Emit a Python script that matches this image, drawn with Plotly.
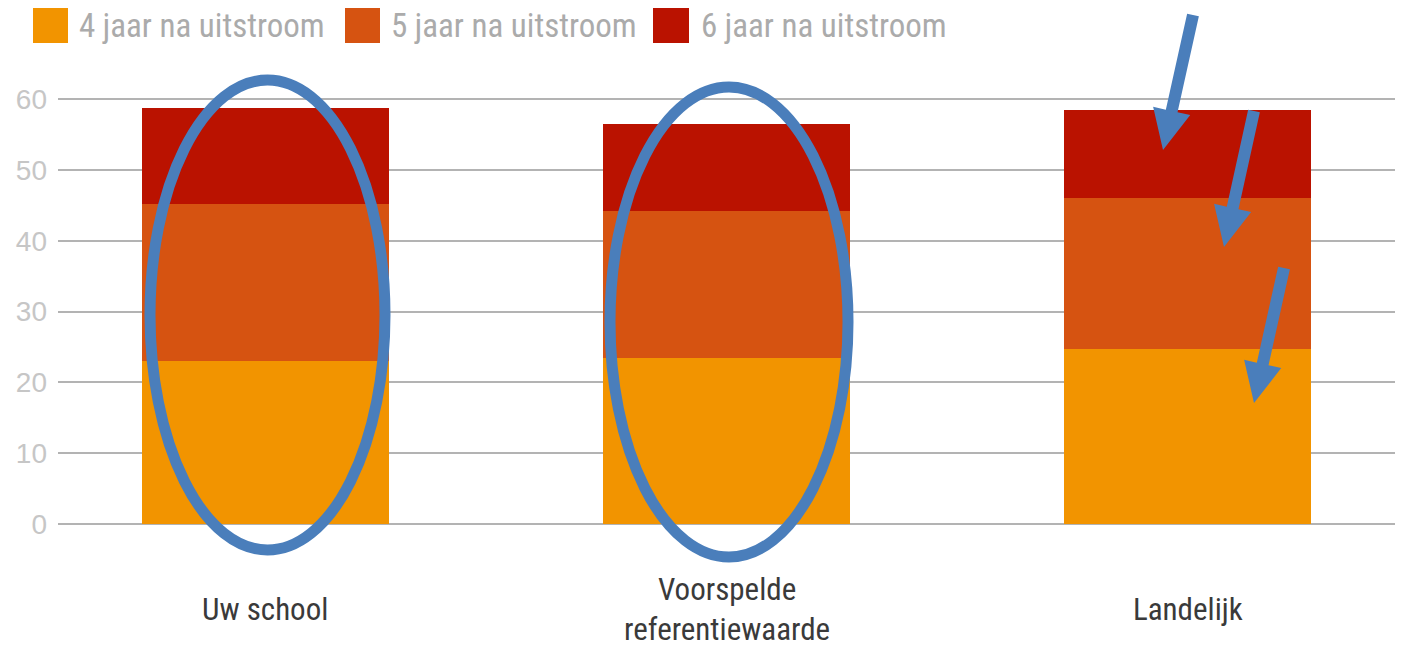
import math
import plotly.graph_objects as go

# ---- data ----
categories = ["Uw school", "Voorspelde referentiewaarde", "Landelijk"]
category_labels = ["Uw school", "Voorspelde<br>referentiewaarde", "Landelijk"]
series_names = ["4 jaar na uitstroom", "5 jaar na uitstroom", "6 jaar na uitstroom"]
jaar4 = [23.0, 23.4, 24.7]
jaar5 = [22.2, 20.8, 21.4]
jaar6 = [13.6, 12.3, 12.3]
y_ticks = [0, 10, 20, 30, 40, 50, 60]

colors = ["#F29400", "#D65311", "#BA1200"]
blue = "#4A7EBB"
FONT = "Roboto Condensed, Liberation Sans Narrow, DejaVu Sans Condensed, Liberation Sans, sans-serif"

# plot area in pixels (y range padded slightly so the 0 and 60 gridlines are drawn)
W, H = 1401, 649
L, R, T, B = 58, 1395, 97, 526
Y_RANGE = [-0.3, 60.3]


def px(x):
    return (x - L) / (R - L)


def py(y):
    return (B - y) / (B - T)


fig = go.Figure()
for name, vals, col in zip(series_names, [jaar4, jaar5, jaar6], colors):
    fig.add_trace(go.Bar(x=categories, y=vals, name=name, marker=dict(color=col, line=dict(width=0))))

fig.update_layout(
    barmode="stack",
    bargap=0.465,
    width=W, height=H,
    margin=dict(l=L, r=W - R, t=T, b=H - B, pad=0),
    plot_bgcolor="white", paper_bgcolor="white",
    showlegend=False,
    xaxis=dict(range=[-0.45, 2.45], showticklabels=False, showgrid=False, zeroline=False, showline=False, ticks=""),
    yaxis=dict(range=Y_RANGE, tickvals=y_ticks, showgrid=True, gridcolor="#B3B3B3", gridwidth=2,
               zeroline=False, showline=False, ticks="", ticklabelstandoff=10,
               tickfont=dict(family="Liberation Sans, Arial, sans-serif", size=28, color="#C6C6C6")),
)

shapes = []
annotations = []

# manual legend
leg_sq = [(33, 68), (345, 380), (653, 689)]
leg_tx = [78, 390, 700]
for (x0, x1), tx, name, col in zip(leg_sq, leg_tx, series_names, colors):
    shapes.append(dict(type="rect", xref="paper", yref="paper", x0=px(x0), x1=px(x1), y0=py(43), y1=py(8),
                       fillcolor=col, line=dict(width=0), layer="above"))
    annotations.append(dict(xref="paper", yref="paper", x=px(tx), y=py(26), xanchor="left", yanchor="middle",
                            text=name, showarrow=False, borderpad=0,
                            font=dict(family=FONT, size=33, color="#ABABAB")))

# category labels
for cat, lab in zip(categories, category_labels):
    annotations.append(dict(xref="x", yref="paper", x=cat, y=py(609), xanchor="center", yanchor="middle",
                            text=lab, showarrow=False, borderpad=0,
                            font=dict(family=FONT, size=31, color="#3A3A3A")))

# ellipses (highlight overlay)
for (x0, x1, y0, y1) in [(150, 385, 80, 550), (610, 848, 87, 557)]:
    shapes.append(dict(type="circle", xref="paper", yref="paper", x0=px(x0), x1=px(x1), y0=py(y1), y1=py(y0),
                       line=dict(color=blue, width=11), fillcolor="rgba(0,0,0,0)", layer="above"))


# arrows (overlay), tail -> tip in pixels
def arrow_path(tx, ty, hx, hy, shaft=12, head_w=38, head_l=40):
    dx, dy = hx - tx, hy - ty
    ln = math.hypot(dx, dy)
    ux, uy = dx / ln, dy / ln
    nx, ny = -uy, ux
    bx, by = hx - ux * head_l, hy - uy * head_l
    pts = [
        (tx + nx * shaft / 2, ty + ny * shaft / 2),
        (bx + nx * shaft / 2, by + ny * shaft / 2),
        (bx + nx * head_w / 2, by + ny * head_w / 2),
        (hx, hy),
        (bx - nx * head_w / 2, by - ny * head_w / 2),
        (bx - nx * shaft / 2, by - ny * shaft / 2),
        (tx - nx * shaft / 2, ty - ny * shaft / 2),
    ]
    return "M " + " L ".join(f"{px(x):.5f},{py(y):.5f}" for x, y in pts) + " Z"


for (tx, ty, hx, hy) in [(1193, 15, 1163, 150), (1254, 111, 1224, 247), (1284, 268, 1254, 403)]:
    shapes.append(dict(type="path", xref="paper", yref="paper", path=arrow_path(tx, ty, hx, hy),
                       fillcolor=blue, line=dict(width=0), layer="above"))

fig.update_layout(shapes=shapes, annotations=annotations)
fig.write_html("out.html", config={"displayModeBar": False},
               post_script="document.body.style.margin='0px';document.body.style.padding='0px';")
